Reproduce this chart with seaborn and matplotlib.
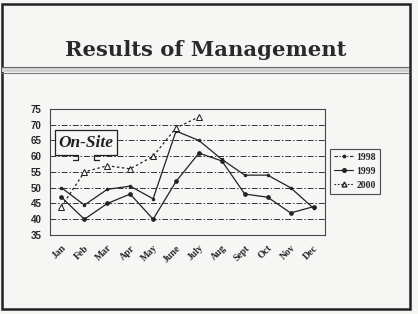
import numpy as np
import pandas as pd
import matplotlib
matplotlib.use("Agg")
import matplotlib.pyplot as plt
import seaborn as sns
from matplotlib.patches import Rectangle
from matplotlib.lines import Line2D

months = ['Jan', 'Feb', 'Mar', 'Apr', 'May', 'June', 'July', 'Aug', 'Sept', 'Oct', 'Nov', 'Dec']
years = ['1998', '1999', '2000']
y1998 = [50, 44.5, 49.5, 50.5, 46.5, 68, 65, 59, 54, 54, 50, 43.5]
y1999 = [47, 40, 45, 48, 40, 52, 61, 58.5, 48, 47, 42, 44]
y2000 = [44, 55, 57, 56, 60, 69, 72.5, np.nan, np.nan, np.nan, np.nan, np.nan]
yticks = [35, 40, 45, 50, 55, 60, 65, 70, 75]

df = pd.DataFrame({
    'pos': np.tile(np.arange(len(months)), 3),
    'value': y1998 + y1999 + y2000,
    'year': np.repeat(years, len(months)),
})

sns.set_style("white")
bg = '#f6f6f4'
ink = '#222222'
serif = ['Liberation Serif', 'DejaVu Serif']
sans = ['Liberation Sans', 'DejaVu Sans']
plt.rcParams['font.family'] = serif

W, H = 418, 314
fig = plt.figure(figsize=(W / 100, H / 100), dpi=100, facecolor=bg)
ax = fig.add_axes([50 / W, 1 - 235 / H, 275 / W, 126 / H])
ax.set_facecolor(bg)

sns.lineplot(data=df, x='pos', y='value', hue='year', style='year',
             palette={y: ink for y in years},
             markers={'1998': '.', '1999': 'o', '2000': '^'},
             dashes={'1998': '', '1999': '', '2000': (2, 2)},
             linewidth=0.9, markersize=3.5, ax=ax, legend=False)
for ln in ax.lines:
    ln.set_markeredgecolor(ink)
ax.lines[1].set_markersize(2.6)
ax.lines[2].set_markerfacecolor('white')
ax.lines[2].set_markersize(4)

ax.set_xlim(-0.5, 11.5)
ax.set_ylim(35, 75)
ax.set_yticks(yticks)
ax.set_yticklabels([str(v) for v in yticks], family=sans, fontweight='bold', fontsize=7)
ax.set_xticks(range(len(months)))
ax.set_xticklabels(months, rotation=45, ha='right', rotation_mode='anchor',
                   fontsize=7, fontweight='bold', family=serif)
ax.set_xticks(np.arange(-0.5, 12, 1), minor=True)
ax.tick_params(axis='x', which='major', length=0, pad=6)
ax.tick_params(axis='x', which='minor', length=3, width=0.7, color=ink, direction='out')
ax.tick_params(axis='y', length=3, width=0.7, color=ink, direction='out', pad=3)
ax.set_xlabel('')
ax.set_ylabel('')
ax.yaxis.grid(True, linestyle=(0, (6, 2, 1.5, 2)), color='#333333', linewidth=0.7)
ax.xaxis.grid(False)
for s in ax.spines.values():
    s.set_color('#444444')
    s.set_linewidth(0.8)

handles = [
    Line2D([], [], color=ink, lw=0.8, ls=(0, (3, 1.5, 1, 1.5)), marker='.', ms=3.5),
    Line2D([], [], color=ink, lw=0.8, marker='o', ms=2.6),
    Line2D([], [], color=ink, lw=0.8, ls=(0, (1.5, 1.5)), marker='^', ms=3.5, mfc='white'),
]
leg = fig.legend(handles, years, loc='upper left', bbox_to_anchor=(330 / W, 1 - 149 / H),
                 borderaxespad=0, frameon=True, fancybox=False, handlelength=2.0,
                 handletextpad=0.3, borderpad=0.4, labelspacing=0.5,
                 prop={'family': serif, 'weight': 'bold', 'size': 7})
leg.get_frame().set_edgecolor(ink)
leg.get_frame().set_linewidth(0.8)
leg.get_frame().set_facecolor(bg)

ov = fig.add_axes([0, 0, 1, 1], zorder=5)
ov.set_xlim(0, W)
ov.set_ylim(H, 0)
ov.axis('off')
ov.patch.set_alpha(0)

ov.add_patch(Rectangle((1.5, 3.5), 408, 305, fill=False, lw=1.8, ec=ink))
ov.text(206, 56, 'Results of Management', ha='center', va='baseline', fontsize=15.2,
        fontweight='bold', family=['DejaVu Serif'], color='#2a2a2a')
ov.fill_between([2, 409], [68, 68], [71.5, 71.5], color='#d2d2d2', lw=0)
ov.plot([2, 409], [66.8, 66.8], color='#666666', lw=0.8)
ov.plot([2, 409], [72.5, 72.5], color='#777777', lw=0.8)

ov.add_patch(Rectangle((55, 130), 62, 25, fc=bg, ec='none'))
ov.plot([78, 55, 55, 117, 117, 94], [155, 155, 130, 130, 155, 155], color=ink, lw=0.9)
ov.plot([78, 78, 73], [155, 160, 160], color=ink, lw=0.9)
ov.plot([94, 94, 99], [155, 160, 160], color=ink, lw=0.9)
ov.text(86, 143, 'On-Site', ha='center', va='center', fontsize=12.5, fontweight='bold',
        fontstyle='italic', family=serif, color=ink)

fig.savefig('out.png', dpi=100, facecolor=bg)
